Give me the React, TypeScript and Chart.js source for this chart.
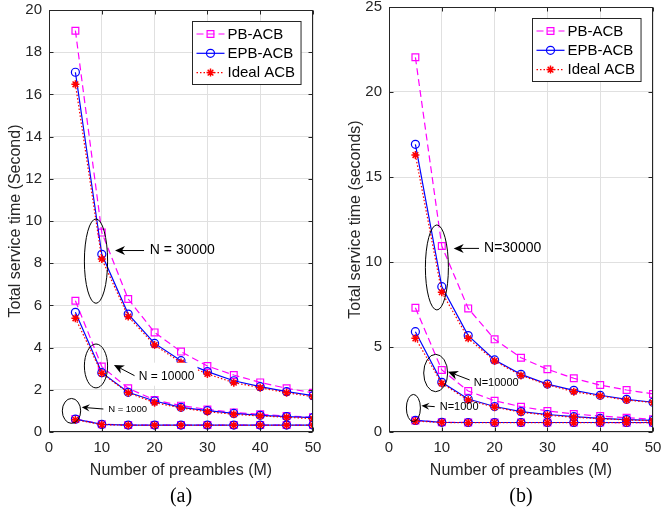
import React, { useEffect, useRef } from "react";
import { Chart, registerables } from "chart.js";

Chart.register(...registerables);

const FONT = "'Liberation Sans', Arial, Helvetica, sans-serif";
const SERIF = "'Liberation Serif', 'Times New Roman', serif";

// ---------- data ----------
const preambles = [5, 10, 15, 20, 25, 30, 35, 40, 45, 50];

// panel (a)
const aPB_30000 = [19.02, 9.45, 6.3, 4.72, 3.81, 3.13, 2.7, 2.35, 2.07, 1.86];
const aEPB_30000 = [17.05, 8.42, 5.59, 4.2, 3.38, 2.86, 2.43, 2.15, 1.91, 1.72];
const aIdeal_30000 = [16.48, 8.2, 5.47, 4.12, 3.29, 2.75, 2.34, 2.1, 1.86, 1.67];
const aPB_10000 = [6.22, 3.1, 2.07, 1.52, 1.25, 1.07, 0.93, 0.84, 0.76, 0.7];
const aEPB_10000 = [5.67, 2.81, 1.88, 1.47, 1.17, 1.01, 0.88, 0.79, 0.73, 0.68];
const aIdeal_10000 = [5.39, 2.78, 1.86, 1.39, 1.14, 0.96, 0.84, 0.76, 0.7, 0.63];
const aPB_1000 = [0.62, 0.37, 0.33, 0.33, 0.33, 0.33, 0.33, 0.33, 0.33, 0.33];
const aEPB_1000 = [0.61, 0.36, 0.33, 0.33, 0.33, 0.33, 0.33, 0.33, 0.33, 0.33];
const aIdeal_1000 = [0.58, 0.35, 0.32, 0.32, 0.32, 0.32, 0.32, 0.32, 0.32, 0.32];

// panel (b)
const bPB_30000 = [22.04, 10.94, 7.27, 5.45, 4.37, 3.69, 3.16, 2.76, 2.47, 2.24];
const bEPB_30000 = [16.92, 8.55, 5.67, 4.24, 3.39, 2.82, 2.45, 2.16, 1.92, 1.75];
const bIdeal_30000 = [16.29, 8.22, 5.51, 4.18, 3.33, 2.78, 2.37, 2.12, 1.88, 1.73];
const bPB_10000 = [7.31, 3.65, 2.41, 1.84, 1.49, 1.24, 1.06, 0.94, 0.84, 0.75];
const bEPB_10000 = [5.9, 2.92, 1.94, 1.5, 1.2, 1.03, 0.9, 0.8, 0.73, 0.68];
const bIdeal_10000 = [5.51, 2.86, 1.88, 1.46, 1.16, 0.99, 0.87, 0.78, 0.71, 0.66];
const bPB_1000 = [0.68, 0.57, 0.56, 0.56, 0.56, 0.56, 0.56, 0.56, 0.55, 0.55];
const bEPB_1000 = [0.68, 0.57, 0.56, 0.56, 0.56, 0.56, 0.56, 0.56, 0.56, 0.56];
const bIdeal_1000 = [0.64, 0.56, 0.55, 0.55, 0.55, 0.55, 0.55, 0.55, 0.55, 0.55];

const xTickStep = 10;
const aYMax = 20;
const aYStep = 2;
const bYMax = 25;
const bYStep = 5;

const aYTitle = "Total service time (Second)";
const bYTitle = "Total service time (seconds)";
const xTitle = "Number of preambles (M)";

// annotations in data units: ellipse, arrow (tail -> tip), label
const aNotes = [
  { text: "N = 30000", cx: 8.9, cy: 8.1, rx: 2.2, ry: 2.0, tail: [18.0, 8.6], tip: [12.5, 8.6], tx: 19.1, ty: 8.6, size: 14, head: 10, bg: false },
  { text: "N = 10000", cx: 8.9, cy: 3.13, rx: 2.2, ry: 1.04, tail: [16.2, 2.67], tip: [12.3, 3.18], tx: 17.0, ty: 2.62, size: 12, head: 10, bg: true },
  { text: "N = 1000", cx: 4.26, cy: 1.0, rx: 1.74, ry: 0.59, tail: [10.3, 1.09], tip: [6.2, 1.17], tx: 11.2, ty: 1.08, size: 9.5, head: 8, bg: false },
];
const bNotes = [
  { text: "N=30000", cx: 9.07, cy: 9.68, rx: 2.18, ry: 2.5, tail: [17.05, 10.8], tip: [12.25, 10.8], tx: 18.0, ty: 10.8, size: 14, head: 10, bg: false },
  { text: "N=10000", cx: 8.84, cy: 3.47, rx: 2.27, ry: 1.1, tail: [15.28, 3.06], tip: [11.17, 3.55], tx: 16.04, ty: 2.9, size: 11, head: 10, bg: false },
  { text: "N=1000", cx: 4.62, cy: 1.41, rx: 1.33, ry: 0.8, tail: [8.66, 1.49], tip: [6.14, 1.55], tx: 9.6, ty: 1.49, size: 11, head: 8, bg: false },
];

// ---------- styles ----------
const seriesStyle: Record<string, any> = {
  PB: { label: "PB-ACB", color: "#ff00ff", dash: [7, 4], pointStyle: "rect", radius: 4.8, pbw: 1.2, order: 3 },
  EPB: { label: "EPB-ACB", color: "#0000ff", dash: [], pointStyle: "circle", radius: 4, pbw: 1.2, order: 2 },
  Ideal: { label: "Ideal ACB", color: "#ff0000", dash: [1.5, 2], pointStyle: "star", radius: 4, pbw: 1.5, order: 1 },
};

function makeDataset(kind: string, values: number[]) {
  const s = seriesStyle[kind];
  return {
    label: s.label,
    data: preambles.map((m, i) => ({ x: m, y: values[i] })),
    borderColor: s.color,
    borderWidth: 1.2,
    borderDash: s.dash,
    pointStyle: s.pointStyle,
    pointRadius: s.radius,
    pointHoverRadius: s.radius,
    pointBorderColor: s.color,
    pointBackgroundColor: "rgba(0,0,0,0)",
    pointBorderWidth: s.pbw,
    tension: 0,
    fill: false,
    order: s.order,
  };
}

function drawMarker(ctx: CanvasRenderingContext2D, style: string, x: number, y: number, r: number) {
  ctx.beginPath();
  if (style === "rect") {
    const h = r * Math.SQRT1_2;
    ctx.rect(x - h, y - h, 2 * h, 2 * h);
  } else if (style === "circle") {
    ctx.arc(x, y, r, 0, Math.PI * 2);
  } else {
    ctx.moveTo(x - r, y); ctx.lineTo(x + r, y);
    ctx.moveTo(x, y - r); ctx.lineTo(x, y + r);
    const d = r * Math.SQRT1_2;
    ctx.moveTo(x - d, y - d); ctx.lineTo(x + d, y + d);
    ctx.moveTo(x - d, y + d); ctx.lineTo(x + d, y - d);
  }
  ctx.stroke();
}

function makeFramePlugin(notes: any[]) {
  return {
    id: "matlabFrame",
    afterDatasetsDraw(chart: any) {
      const { ctx, chartArea: a, scales } = chart;
      const xs = scales.x, ys = scales.y;
      const px = (v: number) => xs.getPixelForValue(v);
      const py = (v: number) => ys.getPixelForValue(v);
      ctx.save();

      // annotations
      for (const n of notes) {
        ctx.strokeStyle = "#000";
        ctx.fillStyle = "#000";
        ctx.lineWidth = 1;
        ctx.setLineDash([]);
        const cx = px(n.cx), cy = py(n.cy);
        const rx = Math.abs(px(n.cx + n.rx) - cx);
        const ry = Math.abs(py(n.cy + n.ry) - cy);
        ctx.beginPath();
        ctx.ellipse(cx, cy, rx, ry, 0, 0, Math.PI * 2);
        ctx.stroke();

        const x1 = px(n.tail[0]), y1 = py(n.tail[1]);
        const x2 = px(n.tip[0]), y2 = py(n.tip[1]);
        const ang = Math.atan2(y2 - y1, x2 - x1);
        const dx = Math.cos(ang), dy = Math.sin(ang);
        const L = n.head, W = n.head * 0.45;
        ctx.beginPath();
        ctx.moveTo(x1, y1);
        ctx.lineTo(x2 - dx * (L - 3), y2 - dy * (L - 3));
        ctx.stroke();
        ctx.beginPath();
        ctx.moveTo(x2, y2);
        ctx.lineTo(x2 - dx * L - dy * W, y2 - dy * L + dx * W);
        ctx.lineTo(x2 - dx * (L - 3), y2 - dy * (L - 3));
        ctx.lineTo(x2 - dx * L + dy * W, y2 - dy * L - dx * W);
        ctx.closePath();
        ctx.fill();

        ctx.font = `${n.size}px ${FONT}`;
        ctx.textAlign = "left";
        ctx.textBaseline = "middle";
        const tx = px(n.tx), ty = py(n.ty);
        if (n.bg) {
          const w = ctx.measureText(n.text).width;
          ctx.fillStyle = "#fff";
          ctx.fillRect(tx - 3, ty - 14, w + 6, 23);
          ctx.fillStyle = "#000";
        }
        ctx.fillText(n.text, tx, ty);
      }

      // box and inward ticks
      ctx.strokeStyle = "#262626";
      ctx.lineWidth = 1;
      ctx.setLineDash([]);
      const L0 = Math.round(a.left) + 0.5, R0 = Math.round(a.right) - 0.5;
      const T0 = Math.round(a.top) + 0.5, B0 = Math.round(a.bottom) - 0.5;
      ctx.strokeRect(L0, T0, R0 - L0, B0 - T0);
      const tl = 4;
      ctx.beginPath();
      for (const t of xs.ticks) {
        const X = Math.round(px(t.value)) + 0.5;
        ctx.moveTo(X, B0); ctx.lineTo(X, B0 - tl);
        ctx.moveTo(X, T0); ctx.lineTo(X, T0 + tl);
      }
      for (const t of ys.ticks) {
        const Y = Math.round(py(t.value)) + 0.5;
        ctx.moveTo(L0, Y); ctx.lineTo(L0 + tl, Y);
        ctx.moveTo(R0, Y); ctx.lineTo(R0 - tl, Y);
      }
      ctx.stroke();

      // legend
      const seen: string[] = [];
      const entries: any[] = [];
      for (const key of ["PB", "EPB", "Ideal"]) {
        const s = seriesStyle[key];
        if (chart.data.datasets.some((d: any) => d.label === s.label) && !seen.includes(s.label)) {
          seen.push(s.label);
          entries.push(s);
        }
      }
      ctx.font = `15px ${FONT}`;
      const maxW = Math.max(...entries.map((e) => ctx.measureText(e.label).width));
      const boxW = 4 + 28 + 3 + maxW + 6;
      const boxH = 63;
      const bx = Math.round(a.right - 12 - boxW) + 0.5;
      const by = Math.round(a.top + 11) + 0.5;
      ctx.fillStyle = "#fff";
      ctx.fillRect(bx, by, boxW, boxH);
      ctx.strokeStyle = "#262626";
      ctx.lineWidth = 1;
      ctx.strokeRect(bx, by, boxW, boxH);
      entries.forEach((e, i) => {
        const yy = by + 12.5 + i * 19.3;
        ctx.strokeStyle = e.color;
        ctx.lineWidth = 1.2;
        ctx.setLineDash(e.dash);
        ctx.beginPath();
        ctx.moveTo(bx + 4, yy);
        ctx.lineTo(bx + 32, yy);
        ctx.stroke();
        ctx.setLineDash([]);
        ctx.lineWidth = e.pbw;
        drawMarker(ctx, e.pointStyle, bx + 18, yy, e.radius);
        ctx.fillStyle = "#000";
        ctx.textAlign = "left";
        ctx.textBaseline = "middle";
        ctx.fillText(e.label, bx + 35, yy + 0.5);
      });

      ctx.restore();
    },
  };
}

interface PanelCfg {
  datasets: any[];
  yMax: number;
  yStep: number;
  yTitle: string;
  caption: string;
  notes: any[];
  width: number;
  padTop: number;
  padRight: number;
}

function Panel({ cfg, left }: { cfg: PanelCfg; left: number }) {
  const ref = useRef<HTMLCanvasElement>(null);
  useEffect(() => {
    if (!ref.current) return;
    const chart = new Chart(ref.current, {
      type: "line",
      data: { datasets: cfg.datasets },
      options: {
        responsive: false,
        animation: false,
        devicePixelRatio: 1,
        layout: { padding: { top: cfg.padTop, right: cfg.padRight, left: 0, bottom: 0 } },
        plugins: {
          legend: { display: false },
          tooltip: { enabled: false },
          title: {
            display: true,
            text: cfg.caption,
            position: "bottom",
            fullSize: false,
            color: "#000",
            font: { family: SERIF, size: 20, weight: "normal" },
            padding: { top: 0, bottom: 2 },
          },
        },
        scales: {
          x: {
            type: "linear",
            min: 0,
            max: 50,
            ticks: { stepSize: xTickStep, color: "#262626", font: { family: FONT, size: 15 }, padding: 7, maxRotation: 0 },
            grid: { color: "#e0e0e0", drawTicks: false },
            border: { display: false },
            title: { display: true, text: xTitle, color: "#262626", font: { family: FONT, size: 16 }, padding: { top: 0, bottom: 5 } },
            afterFit: (s: any) => {
              s.height = 53;
              s.paddingLeft = 0;
              s.paddingRight = 0;
            },
          },
          y: {
            type: "linear",
            min: 0,
            max: cfg.yMax,
            ticks: { stepSize: cfg.yStep, color: "#262626", font: { family: FONT, size: 15 }, padding: 7 },
            grid: { color: "#e0e0e0", drawTicks: false },
            border: { display: false },
            title: { display: true, text: cfg.yTitle, color: "#262626", font: { family: FONT, size: 16 }, padding: { top: 6, bottom: 0 } },
            afterFit: (s: any) => {
              s.width = 49;
              s.paddingTop = 0;
              s.paddingBottom = 0;
            },
          },
        },
      } as any,
      plugins: [makeFramePlugin(cfg.notes)],
    });
    return () => chart.destroy();
  }, []);
  return (
    <div style={{ position: "absolute", left, top: 0, width: cfg.width, height: 511 }}>
      <canvas ref={ref} width={cfg.width} height={511} style={{ display: "block" }} />
    </div>
  );
}

const panelA: PanelCfg = {
  datasets: [
    makeDataset("Ideal", aIdeal_30000),
    makeDataset("Ideal", aIdeal_10000),
    makeDataset("Ideal", aIdeal_1000),
    makeDataset("EPB", aEPB_30000),
    makeDataset("EPB", aEPB_10000),
    makeDataset("EPB", aEPB_1000),
    makeDataset("PB", aPB_30000),
    makeDataset("PB", aPB_10000),
    makeDataset("PB", aPB_1000),
  ],
  yMax: aYMax,
  yStep: aYStep,
  yTitle: aYTitle,
  caption: "(a)",
  notes: aNotes,
  width: 330,
  padTop: 10,
  padRight: 17,
};

const panelB: PanelCfg = {
  datasets: [
    makeDataset("Ideal", bIdeal_30000),
    makeDataset("Ideal", bIdeal_10000),
    makeDataset("Ideal", bIdeal_1000),
    makeDataset("EPB", bEPB_30000),
    makeDataset("EPB", bEPB_10000),
    makeDataset("EPB", bEPB_1000),
    makeDataset("PB", bPB_30000),
    makeDataset("PB", bPB_10000),
    makeDataset("PB", bPB_1000),
  ],
  yMax: bYMax,
  yStep: bYStep,
  yTitle: bYTitle,
  caption: "(b)",
  notes: bNotes,
  width: 321,
  padTop: 7,
  padRight: 8,
};

export default function App() {
  return (
    <div style={{ position: "fixed", left: 0, top: 0, width: 661, height: 511, background: "#fff", overflow: "hidden" }}>
      <Panel cfg={panelA} left={0} />
      <Panel cfg={panelB} left={340} />
    </div>
  );
}
